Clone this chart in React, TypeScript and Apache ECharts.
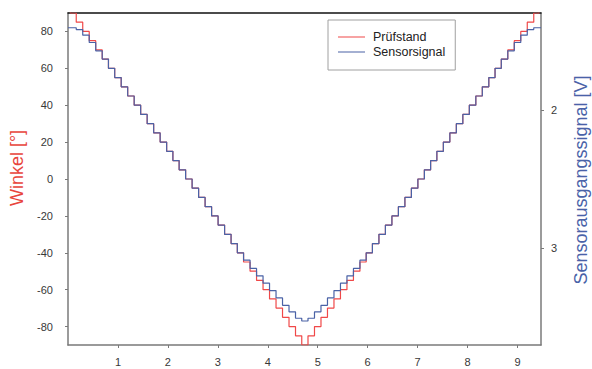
import React, { useEffect, useRef } from "react";
import * as echarts from "echarts";

// Time axis positions of the staircase steps
const stepX = [
  0, 0.1, 0.23, 0.36, 0.49, 0.62, 0.75, 0.87, 1.0, 1.13, 1.26, 1.39, 1.52, 1.65,
  1.78, 1.91, 2.04, 2.16, 2.29, 2.42, 2.55, 2.68, 2.81, 2.94, 3.07, 3.2, 3.33,
  3.45, 3.58, 3.71, 3.84, 3.97, 4.1, 4.23, 4.36, 4.49, 4.62, 4.74, 4.87, 5.0,
  5.13, 5.26, 5.39, 5.52, 5.65, 5.78, 5.91, 6.03, 6.16, 6.29, 6.42, 6.55, 6.68,
  6.81, 6.94, 7.07, 7.2, 7.32, 7.45, 7.58, 7.71, 7.84, 7.97, 8.1, 8.23, 8.36,
  8.49, 8.61, 8.74, 8.87, 9.0, 9.13, 9.26, 9.39, 9.47,
];

// Prüfstand angle [°]
const pruefstand = [
  95, 90, 85, 80, 75, 70, 65, 60, 55, 50, 45, 40, 35, 30, 25, 20, 15, 10, 5, 0,
  -5, -10, -15, -20, -25, -30, -35, -40, -45, -50, -55, -60, -65, -70, -75, -80,
  -85, -90, -85, -80, -75, -70, -65, -60, -55, -50, -45, -40, -35, -30, -25,
  -20, -15, -10, -5, 0, 5, 10, 15, 20, 25, 30, 35, 40, 45, 50, 55, 60, 65, 70,
  75, 80, 85, 90, 95,
];

// Sensorsignal, expressed on the angle scale [°]
const sensorsignal = [
  82, 82, 81, 78, 74, 69.5, 65, 60, 55, 50, 45, 40, 35, 30, 25, 20, 15, 10, 5, 0,
  -5, -10, -15, -20, -25, -30, -35, -40, -44, -48.5, -52.5, -56.5, -60.5, -64.5,
  -68.5, -72, -75.5, -77, -75.5, -72, -68.5, -64.5, -60.5, -56.5, -52.5, -48.5,
  -44, -40, -35, -30, -25, -20, -15, -10, -5, 0, 5, 10, 15, 20, 25, 30, 35, 40,
  45, 50, 55, 60, 65, 69.5, 74, 78, 81, 82, 82,
];

const timeTicks = [1, 2, 3, 4, 5, 6, 7, 8, 9];
const angleTicks = [-80, -60, -40, -20, 0, 20, 40, 60, 80];
const voltTicks = [2, 3];

const RED = "#f04848";
const BLUE = "#4a62a6";
const AXIS = "#7a7a7a";
const FONT = "'Liberation Sans', Arial, Helvetica, sans-serif";
const LINE_ICON = "path://M0,0H27V0.02H0Z M0,6.4H27V7.6H0Z M0,13.98H27V14H0Z";

export default function App() {
  const ref = useRef<HTMLDivElement>(null);

  useEffect(() => {
    if (!ref.current) return;
    const chart = echarts.init(ref.current, null, { renderer: "svg" });

    const labelStyle = { color: "#383838", fontSize: 11, fontFamily: FONT };

    chart.setOption({
      animation: false,
      backgroundColor: "#ffffff",
      grid: { left: 68, right: 51, top: 13, bottom: 24, containLabel: false },
      legend: {
        data: [
          { name: "Prüfstand", icon: LINE_ICON },
          { name: "Sensorsignal", icon: LINE_ICON },
        ],
        orient: "vertical",
        left: 328,
        top: 20,
        backgroundColor: "#ffffff",
        borderColor: "#a0a0a0",
        borderWidth: 1,
        borderRadius: 0,
        padding: [10, 10, 11, 10],
        itemWidth: 27,
        itemHeight: 14,
        itemGap: 1,
        textStyle: {
          color: "#222",
          fontSize: 12.5,
          fontFamily: FONT,
          padding: [0, 0, 0, 3],
        },
      },
      xAxis: [
        {
          type: "value",
          min: 0,
          max: 9.47,
          position: "bottom",
          axisLine: { show: true, onZero: false, lineStyle: { color: AXIS, width: 1.5 } },
          axisTick: {
            show: true,
            customValues: timeTicks,
            length: 3,
            inside: false,
            lineStyle: { color: AXIS, width: 1 },
          },
          axisLabel: { customValues: timeTicks, margin: 11, ...labelStyle },
          splitLine: { show: false },
        },
        {
          type: "value",
          min: 0,
          max: 9.47,
          position: "top",
          axisLine: { show: true, onZero: false, lineStyle: { color: "#111", width: 1.5 } },
          axisTick: { show: false },
          axisLabel: { show: false },
          splitLine: { show: false },
        },
      ],
      yAxis: [
        {
          type: "value",
          min: -90,
          max: 90,
          position: "left",
          axisLine: { show: true, onZero: false, lineStyle: { color: AXIS, width: 1.5 } },
          axisTick: {
            show: true,
            customValues: angleTicks,
            length: 3,
            lineStyle: { color: AXIS, width: 1 },
          },
          axisLabel: { customValues: angleTicks, margin: 15, ...labelStyle },
          splitLine: { show: false },
        },
        {
          type: "value",
          min: 1.297,
          max: 3.703,
          inverse: true,
          position: "right",
          axisLine: { show: true, onZero: false, lineStyle: { color: AXIS, width: 1.5 } },
          axisTick: {
            show: true,
            customValues: voltTicks,
            length: 3,
            lineStyle: { color: AXIS, width: 1 },
          },
          axisLabel: { customValues: voltTicks, margin: 10, ...labelStyle },
          splitLine: { show: false },
        },
      ],
      graphic: [
        {
          type: "text",
          x: 17,
          y: 168,
          rotation: Math.PI / 2,
          style: {
            text: "Winkel [°]",
            fill: "#e8453c",
            fontSize: 18,
            fontFamily: FONT,
            align: "center",
            verticalAlign: "middle",
          },
        },
        {
          type: "text",
          x: 581,
          y: 180,
          rotation: Math.PI / 2,
          style: {
            text: "Sensorausgangssignal [V]",
            fill: "#4a62a8",
            fontSize: 18,
            fontFamily: FONT,
            align: "center",
            verticalAlign: "middle",
          },
        },
      ],
      series: [
        {
          name: "Prüfstand",
          type: "line",
          xAxisIndex: 0,
          yAxisIndex: 0,
          step: "middle",
          symbol: "none",
          clip: true,
          data: stepX.map((x, i) => [x, pruefstand[i]]),
          lineStyle: { color: RED, width: 1.2 },
          itemStyle: { color: RED },
        },
        {
          name: "Sensorsignal",
          type: "line",
          xAxisIndex: 0,
          yAxisIndex: 0,
          step: "middle",
          symbol: "none",
          clip: true,
          data: stepX.map((x, i) => [x, sensorsignal[i]]),
          lineStyle: { color: BLUE, width: 1.2 },
          itemStyle: { color: BLUE },
        },
      ],
    });

    return () => chart.dispose();
  }, []);

  return (
    <div
      ref={ref}
      style={{ position: "fixed", left: 0, top: 0, width: 592, height: 369 }}
    />
  );
}
